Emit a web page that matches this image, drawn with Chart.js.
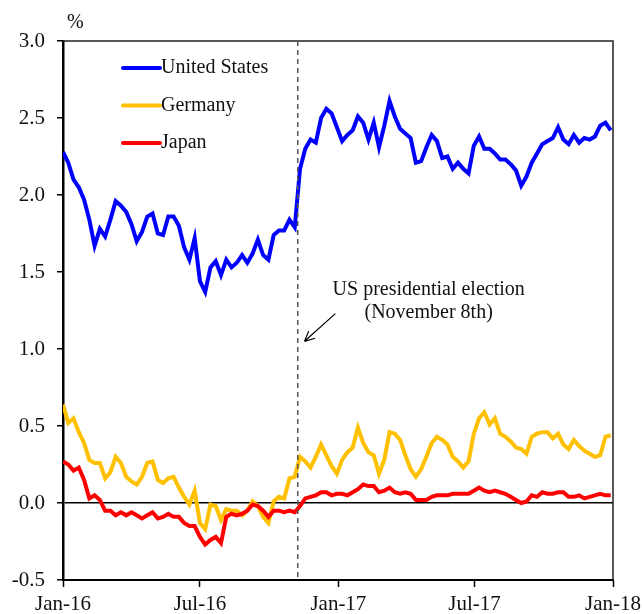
<!DOCTYPE html>
<html>
<head>
<meta charset="utf-8">
<script src="https://cdn.jsdelivr.net/npm/chart.js@4.4.1/dist/chart.umd.min.js"></script>
<style>
	html, body { margin: 0; padding: 0; background: #fff; }
	#wrap { width: 642px; height: 614px; position: relative; }
</style>
</head>
<body>
<div id="wrap"><canvas id="yieldChart"></canvas></div>
<script>
// Weekly observations, days counted from 1 Jan 2016
const weekDays = Array.from({ length: 105 }, (_, i) => i * 7);

// 10-year government bond yields (%)
const usYield = [
	2.28, 2.21, 2.10, 2.05, 1.97, 1.84, 1.67, 1.78, 1.73, 1.84,
	1.96, 1.93, 1.89, 1.81, 1.70, 1.76, 1.86, 1.88, 1.75, 1.74,
	1.86, 1.86, 1.80, 1.66, 1.58, 1.72, 1.44, 1.37, 1.53, 1.57,
	1.48, 1.58, 1.53, 1.56, 1.61, 1.56, 1.62, 1.71, 1.61, 1.58,
	1.74, 1.77, 1.77, 1.84, 1.79, 2.17, 2.30, 2.36, 2.34, 2.50,
	2.56, 2.53, 2.44, 2.35, 2.39, 2.42, 2.51, 2.47, 2.36, 2.47,
	2.31, 2.45, 2.61, 2.51, 2.43, 2.40, 2.37, 2.21, 2.22, 2.31,
	2.39, 2.35, 2.24, 2.25, 2.17, 2.21, 2.17, 2.14, 2.32, 2.38,
	2.30, 2.30, 2.27, 2.23, 2.23, 2.20, 2.16, 2.06, 2.12, 2.21,
	2.27, 2.33, 2.35, 2.37, 2.44, 2.36, 2.33, 2.39, 2.34, 2.37,
	2.36, 2.38, 2.45, 2.47, 2.42
];

const germanyYield = [
	0.64, 0.52, 0.55, 0.46, 0.39, 0.28, 0.26, 0.26, 0.16, 0.20,
	0.30, 0.26, 0.17, 0.14, 0.12, 0.17, 0.26, 0.27, 0.15, 0.13,
	0.16, 0.17, 0.10, 0.04, -0.01, 0.08, -0.13, -0.17, -0.01, -0.02,
	-0.11, -0.04, -0.05, -0.05, -0.08, -0.05, 0.01, -0.02, -0.09, -0.13,
	0.01, 0.04, 0.03, 0.16, 0.17, 0.30, 0.27, 0.23, 0.30, 0.38,
	0.31, 0.24, 0.19, 0.28, 0.33, 0.36, 0.49, 0.39, 0.33, 0.31,
	0.19, 0.28, 0.46, 0.45, 0.41, 0.31, 0.22, 0.17, 0.22, 0.30,
	0.39, 0.43, 0.41, 0.38, 0.30, 0.27, 0.23, 0.27, 0.45, 0.55,
	0.59, 0.51, 0.55, 0.45, 0.43, 0.40, 0.36, 0.35, 0.32, 0.43,
	0.45, 0.46, 0.46, 0.42, 0.45, 0.38, 0.35, 0.41, 0.37, 0.34,
	0.32, 0.30, 0.31, 0.43, 0.44
];

const japanYield = [
	0.27, 0.25, 0.21, 0.23, 0.15, 0.03, 0.05, 0.02, -0.05, -0.05,
	-0.08, -0.06, -0.08, -0.06, -0.08, -0.10, -0.08, -0.06, -0.10, -0.09,
	-0.07, -0.09, -0.09, -0.13, -0.15, -0.15, -0.22, -0.27, -0.24, -0.22,
	-0.26, -0.09, -0.07, -0.08, -0.07, -0.05, -0.01, -0.02, -0.05, -0.09,
	-0.05, -0.05, -0.06, -0.05, -0.06, -0.02, 0.03, 0.04, 0.05, 0.07,
	0.07, 0.05, 0.06, 0.06, 0.05, 0.07, 0.09, 0.12, 0.11, 0.11,
	0.07, 0.08, 0.10, 0.07, 0.06, 0.07, 0.06, 0.02, 0.02, 0.02,
	0.04, 0.05, 0.05, 0.05, 0.06, 0.06, 0.06, 0.06, 0.08, 0.10,
	0.08, 0.07, 0.08, 0.07, 0.06, 0.04, 0.02, 0.00, 0.01, 0.05,
	0.04, 0.07, 0.06, 0.06, 0.07, 0.07, 0.04, 0.04, 0.05, 0.03,
	0.04, 0.05, 0.06, 0.05, 0.05
];

// Axis ticks
const xTickDays = [0, 182, 366, 547, 731];
const xTickLabels = ["Jan-16", "Jul-16", "Jan-17", "Jul-17", "Jan-18"];
const yTicks = [-0.5, 0.0, 0.5, 1.0, 1.5, 2.0, 2.5, 3.0];

// Election marker (8 Nov 2016)
const electionDay = 312;
const electionText = ["US presidential election", "(November 8th)"];

const seriesNames = ["United States", "Germany", "Japan"];
const seriesColors = ["#0000FF", "#FFC000", "#FF0000"];
const seriesValues = [usYield, germanyYield, japanYield];

const serif = "'Liberation Serif', 'DejaVu Serif', serif";
const textColor = "#111";

// Frame, election marker, annotation and legend
const overlayPlugin = {
	id: "overlay",
	afterDatasetsDraw(chart) {
		const { ctx, chartArea, scales } = chart;
		const x = scales.x, y = scales.y;
		ctx.save();

		// top and right frame
		ctx.strokeStyle = "#222";
		ctx.lineWidth = 1.5;
		ctx.beginPath();
		ctx.moveTo(chartArea.left, chartArea.top);
		ctx.lineTo(chartArea.right, chartArea.top);
		ctx.lineTo(chartArea.right, chartArea.bottom);
		ctx.stroke();

		// dashed election line
		const ex = x.getPixelForValue(electionDay);
		ctx.strokeStyle = "#555";
		ctx.lineWidth = 1.5;
		ctx.setLineDash([5, 4]);
		ctx.beginPath();
		ctx.moveTo(ex, chartArea.top);
		ctx.lineTo(ex, chartArea.bottom);
		ctx.stroke();
		ctx.setLineDash([]);

		// annotation text
		ctx.fillStyle = textColor;
		ctx.font = "20px " + serif;
		ctx.textAlign = "center";
		ctx.textBaseline = "middle";
		ctx.fillText(electionText[0], x.getPixelForValue(486), y.getPixelForValue(1.385));
		ctx.fillText(electionText[1], x.getPixelForValue(486), y.getPixelForValue(1.235));

		// arrow
		const tx = x.getPixelForValue(electionDay + 9), ty = y.getPixelForValue(1.05);
		const sx = x.getPixelForValue(362), sy = y.getPixelForValue(1.23);
		ctx.strokeStyle = "#000";
		ctx.lineWidth = 1.2;
		ctx.beginPath();
		ctx.moveTo(sx, sy);
		ctx.lineTo(tx, ty);
		const ang = Math.atan2(ty - sy, tx - sx);
		ctx.moveTo(tx, ty);
		ctx.lineTo(tx - 11 * Math.cos(ang - 0.45), ty - 11 * Math.sin(ang - 0.45));
		ctx.moveTo(tx, ty);
		ctx.lineTo(tx - 11 * Math.cos(ang + 0.45), ty - 11 * Math.sin(ang + 0.45));
		ctx.stroke();

		// legend
		ctx.textAlign = "left";
		ctx.font = "20px " + serif;
		const lx = chartArea.left + 60;
		seriesNames.forEach((name, i) => {
			const ly = chartArea.top + 27 + i * 37.5;
			ctx.strokeStyle = seriesColors[i];
			ctx.lineWidth = 4;
			ctx.lineCap = "round";
			ctx.beginPath();
			ctx.moveTo(lx, ly);
			ctx.lineTo(lx + 37, ly);
			ctx.stroke();
			ctx.fillStyle = textColor;
			ctx.fillText(name, lx + 38, ly);
		});

		// unit label
		ctx.font = "20px " + serif;
		ctx.fillText("%", chartArea.left + 4, chartArea.top - 18);

		ctx.restore();
	},
};

const chartConfig = {
	type: "line",
	data: {
		datasets: seriesNames.map((name, i) => ({
			label: name,
			data: seriesValues[i].map((v, k) => ({ x: weekDays[k], y: v })),
			borderColor: seriesColors[i],
			borderWidth: 4,
			pointRadius: 0,
			tension: 0,
			fill: false,
		})).reverse(),
	},
	options: {
		responsive: true,
		maintainAspectRatio: false,
		animation: false,
		layout: {
			padding: { top: 41, right: 29, left: 0, bottom: 0 },
		},
		plugins: {
			legend: { display: false },
			tooltip: { enabled: false },
		},
		scales: {
			x: {
				type: "linear",
				min: 0,
				max: 731,
				afterBuildTicks: (scale) => {
					scale.ticks = xTickDays.map((v) => ({ value: v }));
				},
				afterFit: (scale) => {
					scale.height = 34;
					scale.paddingLeft = 0;
					scale.paddingRight = 0;
				},
				grid: {
					display: true,
					drawOnChartArea: false,
					tickLength: 7,
					tickColor: "#000",
					tickWidth: 1.5,
				},
				border: { display: true, color: "#000", width: 2 },
				ticks: {
					autoSkip: false,
					maxRotation: 0,
					padding: 5,
					color: textColor,
					font: { family: serif, size: 21 },
					callback: (value) => xTickLabels[xTickDays.indexOf(value)],
				},
			},
			y: {
				type: "linear",
				min: -0.5,
				max: 3.0,
				afterBuildTicks: (scale) => {
					scale.ticks = yTicks.map((v) => ({ value: v }));
				},
				afterFit: (scale) => {
					scale.width = 63;
				},
				grid: {
					display: true,
					color: (c) => (c.tick && c.tick.value === 0 ? "#000" : "rgba(0,0,0,0)"),
					lineWidth: 1.5,
					tickLength: 6,
					tickColor: "#000",
					tickWidth: 1.5,
				},
				border: { display: true, color: "#000", width: 2.5 },
				ticks: {
					padding: 12,
					color: textColor,
					font: { family: serif, size: 21 },
					callback: (value) => value.toFixed(1),
				},
			},
		},
	},
	plugins: [overlayPlugin],
};

let yieldChart;

document.addEventListener("DOMContentLoaded", () => {
	const ctx = document.getElementById("yieldChart");
	if (ctx) {
		yieldChart = new Chart(ctx, chartConfig);
	}
});
</script>
</body>
</html>
